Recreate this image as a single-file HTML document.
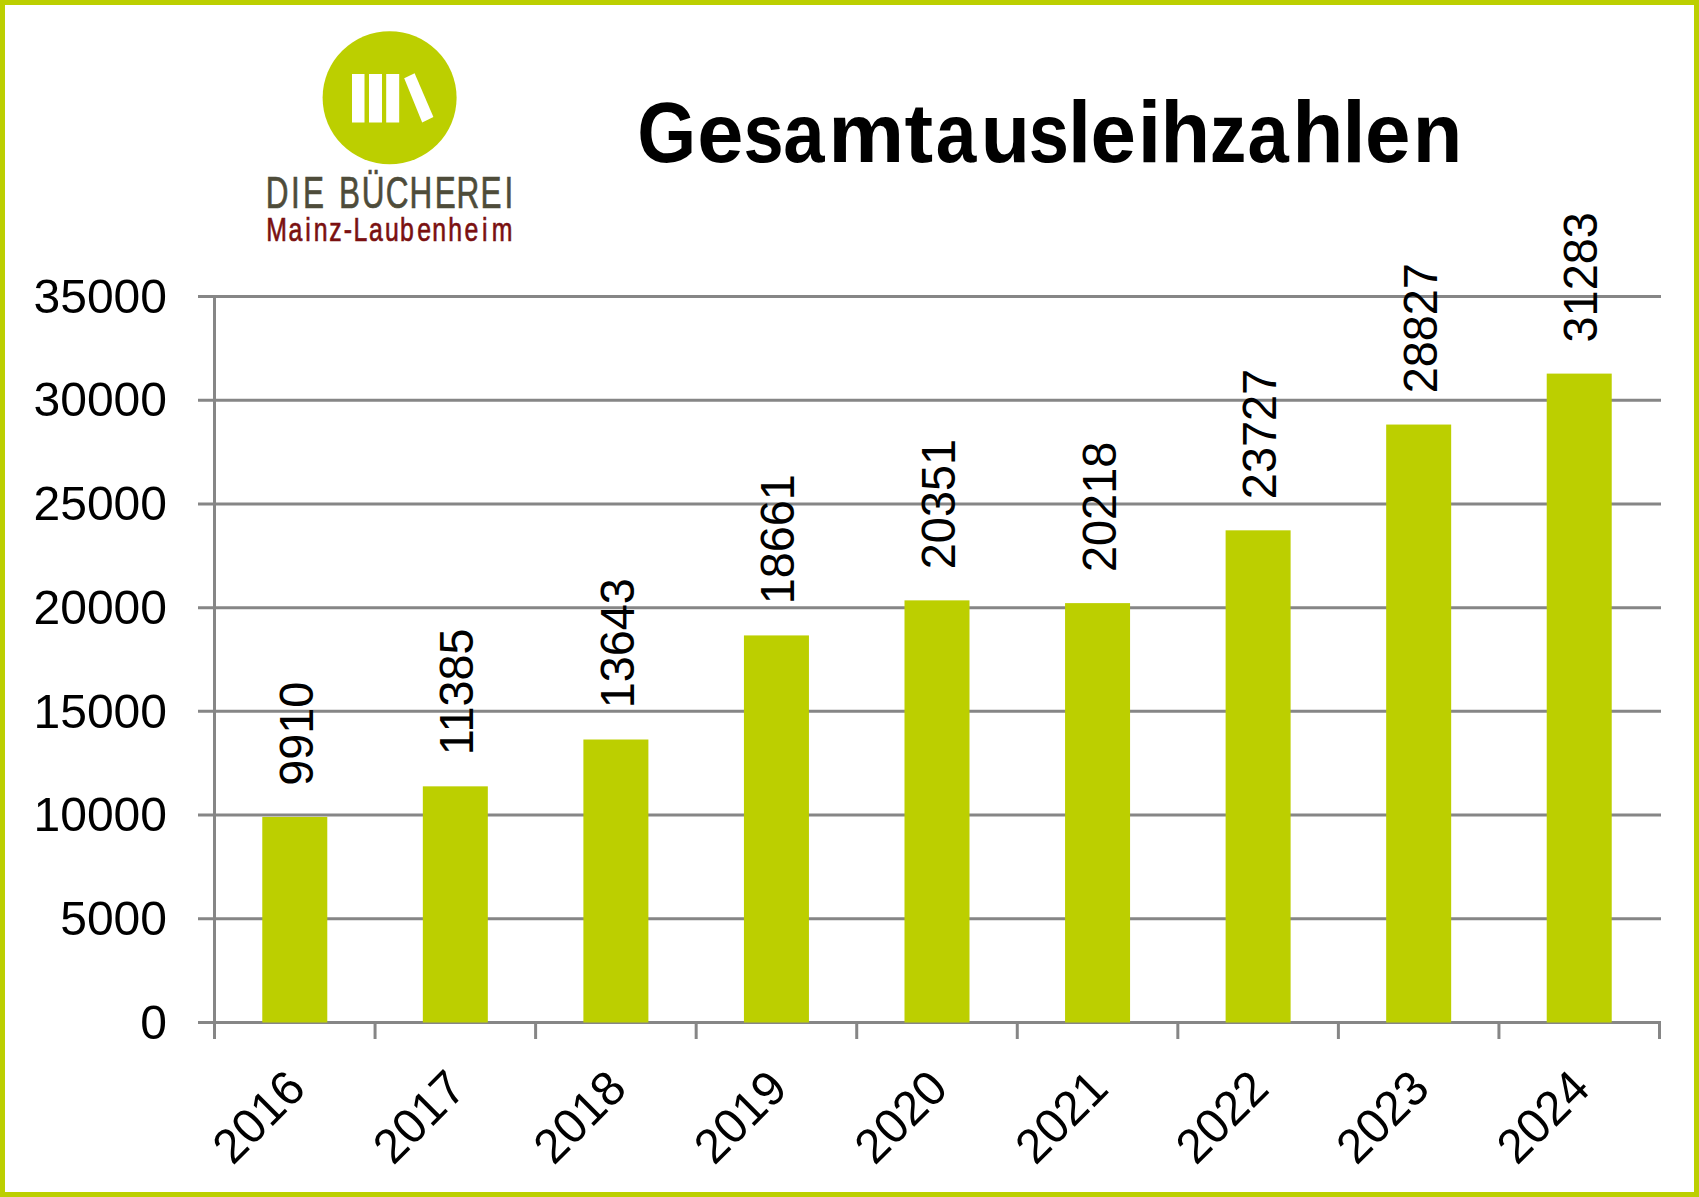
<!DOCTYPE html>
<html><head><meta charset="utf-8"><style>
html,body{margin:0;padding:0;background:#fff;}
svg{display:block;}
.ax{font-family:"Liberation Sans",sans-serif;font-size:48.5px;fill:#000;}
.ttl{font-family:"Liberation Sans",sans-serif;font-size:86px;font-weight:bold;fill:#000;}
.lg{font-family:"Liberation Sans",sans-serif;}
</style></head><body>
<svg width="1699" height="1197" viewBox="0 0 1699 1197">
<rect x="0" y="0" width="1699" height="1197" fill="#BCCF00"/>
<rect x="5" y="5" width="1689" height="1187" fill="#FFFFFF"/>
<ellipse cx="389.6" cy="97.8" rx="67" ry="66.5" fill="#BCCF00"/>
<rect x="352" y="74" width="12.5" height="48.5" fill="#fff"/>
<rect x="369" y="74" width="13" height="48.5" fill="#fff"/>
<rect x="386.2" y="74" width="13" height="48.5" fill="#fff"/>
<polygon points="404.2,78.3 414.6,73.3 433.4,117.1 422.2,122.5" fill="#fff"/>
<g class="lg"><text transform="translate(265.79,208) scale(0.700,1)" fill="#4E4C3A" stroke="#4E4C3A" stroke-width="0.7" style="font-size:45px">D</text><text transform="translate(291.12,208) scale(0.700,1)" fill="#4E4C3A" stroke="#4E4C3A" stroke-width="0.7" style="font-size:45px">I</text><text transform="translate(303.08,208) scale(0.700,1)" fill="#4E4C3A" stroke="#4E4C3A" stroke-width="0.7" style="font-size:45px">E</text><text transform="translate(339.03,208) scale(0.700,1)" fill="#4E4C3A" stroke="#4E4C3A" stroke-width="0.7" style="font-size:45px">B</text><text transform="translate(361.73,208) scale(0.700,1)" fill="#4E4C3A" stroke="#4E4C3A" stroke-width="0.7" style="font-size:45px">Ü</text><text transform="translate(385.83,208) scale(0.700,1)" fill="#4E4C3A" stroke="#4E4C3A" stroke-width="0.7" style="font-size:45px">C</text><text transform="translate(409.42,208) scale(0.700,1)" fill="#4E4C3A" stroke="#4E4C3A" stroke-width="0.7" style="font-size:45px">H</text><text transform="translate(434.68,208) scale(0.700,1)" fill="#4E4C3A" stroke="#4E4C3A" stroke-width="0.7" style="font-size:45px">E</text><text transform="translate(456.46,208) scale(0.700,1)" fill="#4E4C3A" stroke="#4E4C3A" stroke-width="0.7" style="font-size:45px">R</text><text transform="translate(480.58,208) scale(0.700,1)" fill="#4E4C3A" stroke="#4E4C3A" stroke-width="0.7" style="font-size:45px">E</text><text transform="translate(504.42,208) scale(0.700,1)" fill="#4E4C3A" stroke="#4E4C3A" stroke-width="0.7" style="font-size:45px">I</text><text transform="translate(266.36,240.9) scale(0.730,1)" fill="#7A1010" stroke="#7A1010" stroke-width="0.7" style="font-size:34px">M</text><text transform="translate(288.42,240.9) scale(0.730,1)" fill="#7A1010" stroke="#7A1010" stroke-width="0.7" style="font-size:34px">a</text><text transform="translate(305.35,240.9) scale(0.730,1)" fill="#7A1010" stroke="#7A1010" stroke-width="0.7" style="font-size:34px">i</text><text transform="translate(313.83,240.9) scale(0.730,1)" fill="#7A1010" stroke="#7A1010" stroke-width="0.7" style="font-size:34px">n</text><text transform="translate(329.16,240.9) scale(0.730,1)" fill="#7A1010" stroke="#7A1010" stroke-width="0.7" style="font-size:34px">z</text><text transform="translate(343.72,240.9) scale(0.730,1)" fill="#7A1010" stroke="#7A1010" stroke-width="0.7" style="font-size:34px">-</text><text transform="translate(353.39,240.9) scale(0.730,1)" fill="#7A1010" stroke="#7A1010" stroke-width="0.7" style="font-size:34px">L</text><text transform="translate(368.92,240.9) scale(0.730,1)" fill="#7A1010" stroke="#7A1010" stroke-width="0.7" style="font-size:34px">a</text><text transform="translate(384.97,240.9) scale(0.730,1)" fill="#7A1010" stroke="#7A1010" stroke-width="0.7" style="font-size:34px">u</text><text transform="translate(400.02,240.9) scale(0.730,1)" fill="#7A1010" stroke="#7A1010" stroke-width="0.7" style="font-size:34px">b</text><text transform="translate(417.32,240.9) scale(0.730,1)" fill="#7A1010" stroke="#7A1010" stroke-width="0.7" style="font-size:34px">e</text><text transform="translate(432.23,240.9) scale(0.730,1)" fill="#7A1010" stroke="#7A1010" stroke-width="0.7" style="font-size:34px">n</text><text transform="translate(448.24,240.9) scale(0.730,1)" fill="#7A1010" stroke="#7A1010" stroke-width="0.7" style="font-size:34px">h</text><text transform="translate(464.57,240.9) scale(0.730,1)" fill="#7A1010" stroke="#7A1010" stroke-width="0.7" style="font-size:34px">e</text><text transform="translate(481.95,240.9) scale(0.730,1)" fill="#7A1010" stroke="#7A1010" stroke-width="0.7" style="font-size:34px">i</text><text transform="translate(491.76,240.9) scale(0.730,1)" fill="#7A1010" stroke="#7A1010" stroke-width="0.7" style="font-size:34px">m</text></g>
<g class="ttl"><text transform="translate(637.29,161.7) scale(0.881,1.0)">G</text><text transform="translate(697.36,161.7) scale(0.966,0.97)">e</text><text transform="translate(743.47,161.7) scale(0.840,0.97)">s</text><text transform="translate(783.23,161.7) scale(0.863,0.97)">a</text><text transform="translate(828.26,161.7) scale(0.994,0.97)">m</text><text transform="translate(904.43,161.7) scale(1.000,0.967)">t</text><text transform="translate(935.66,161.7) scale(0.849,0.97)">a</text><text transform="translate(980.70,161.7) scale(0.937,0.97)">u</text><text transform="translate(1028.77,161.7) scale(0.840,0.97)">s</text><text transform="translate(1067.70,161.7) scale(0.983,1.016)">l</text><text transform="translate(1090.40,161.7) scale(0.951,0.97)">e</text><text transform="translate(1137.40,161.7) scale(1.000,1.016)">i</text><text transform="translate(1160.43,161.7) scale(0.944,1.016)">h</text><text transform="translate(1209.87,161.7) scale(0.850,0.97)">z</text><text transform="translate(1247.53,161.7) scale(0.863,0.97)">a</text><text transform="translate(1292.34,161.7) scale(0.976,1.016)">h</text><text transform="translate(1342.20,161.7) scale(0.983,1.016)">l</text><text transform="translate(1364.90,161.7) scale(0.951,0.97)">e</text><text transform="translate(1412.75,161.7) scale(0.944,0.97)">n</text></g>
<line x1="198" y1="1022.50" x2="1661.00" y2="1022.50" stroke="#868686" stroke-width="3"/>
<line x1="198" y1="918.79" x2="1661.00" y2="918.79" stroke="#868686" stroke-width="3"/>
<line x1="198" y1="815.07" x2="1661.00" y2="815.07" stroke="#868686" stroke-width="3"/>
<line x1="198" y1="711.36" x2="1661.00" y2="711.36" stroke="#868686" stroke-width="3"/>
<line x1="198" y1="607.64" x2="1661.00" y2="607.64" stroke="#868686" stroke-width="3"/>
<line x1="198" y1="503.93" x2="1661.00" y2="503.93" stroke="#868686" stroke-width="3"/>
<line x1="198" y1="400.21" x2="1661.00" y2="400.21" stroke="#868686" stroke-width="3"/>
<line x1="198" y1="296.50" x2="1661.00" y2="296.50" stroke="#868686" stroke-width="3"/>
<line x1="214.5" y1="295.0" x2="214.5" y2="1039" stroke="#868686" stroke-width="3"/>
<line x1="375.06" y1="1022.5" x2="375.06" y2="1039" stroke="#868686" stroke-width="3"/>
<line x1="535.61" y1="1022.5" x2="535.61" y2="1039" stroke="#868686" stroke-width="3"/>
<line x1="696.17" y1="1022.5" x2="696.17" y2="1039" stroke="#868686" stroke-width="3"/>
<line x1="856.72" y1="1022.5" x2="856.72" y2="1039" stroke="#868686" stroke-width="3"/>
<line x1="1017.28" y1="1022.5" x2="1017.28" y2="1039" stroke="#868686" stroke-width="3"/>
<line x1="1177.83" y1="1022.5" x2="1177.83" y2="1039" stroke="#868686" stroke-width="3"/>
<line x1="1338.39" y1="1022.5" x2="1338.39" y2="1039" stroke="#868686" stroke-width="3"/>
<line x1="1498.94" y1="1022.5" x2="1498.94" y2="1039" stroke="#868686" stroke-width="3"/>
<line x1="1659.50" y1="1022.5" x2="1659.50" y2="1039" stroke="#868686" stroke-width="3"/>
<rect x="262.28" y="816.94" width="65" height="205.56" fill="#BCCF00"/>
<rect x="422.83" y="786.34" width="65" height="236.16" fill="#BCCF00"/>
<rect x="583.39" y="739.51" width="65" height="282.99" fill="#BCCF00"/>
<rect x="743.94" y="635.42" width="65" height="387.08" fill="#BCCF00"/>
<rect x="904.50" y="600.36" width="65" height="422.14" fill="#BCCF00"/>
<rect x="1065.06" y="603.12" width="65" height="419.38" fill="#BCCF00"/>
<rect x="1225.61" y="530.33" width="65" height="492.17" fill="#BCCF00"/>
<rect x="1386.17" y="424.55" width="65" height="597.95" fill="#BCCF00"/>
<rect x="1546.72" y="373.60" width="65" height="648.90" fill="#BCCF00"/>
<text transform="translate(167,1038.70) scale(0.99,1)" text-anchor="end" class="ax">0</text>
<text transform="translate(167,934.99) scale(0.99,1)" text-anchor="end" class="ax">5000</text>
<text transform="translate(167,831.27) scale(0.99,1)" text-anchor="end" class="ax">10000</text>
<text transform="translate(167,727.56) scale(0.99,1)" text-anchor="end" class="ax">15000</text>
<text transform="translate(167,623.84) scale(0.99,1)" text-anchor="end" class="ax">20000</text>
<text transform="translate(167,520.13) scale(0.99,1)" text-anchor="end" class="ax">25000</text>
<text transform="translate(167,416.41) scale(0.99,1)" text-anchor="end" class="ax">30000</text>
<text transform="translate(167,312.70) scale(0.99,1)" text-anchor="end" class="ax">35000</text>
<text transform="translate(312.78,785.74) rotate(-90) scale(0.965,1)" class="ax">9910</text>
<text transform="translate(473.33,755.14) rotate(-90) scale(0.965,1)" class="ax">11385</text>
<text transform="translate(633.89,708.31) rotate(-90) scale(0.965,1)" class="ax">13643</text>
<text transform="translate(794.44,604.22) rotate(-90) scale(0.965,1)" class="ax">18661</text>
<text transform="translate(955.00,569.16) rotate(-90) scale(0.965,1)" class="ax">20351</text>
<text transform="translate(1115.56,571.92) rotate(-90) scale(0.965,1)" class="ax">20218</text>
<text transform="translate(1276.11,499.13) rotate(-90) scale(0.965,1)" class="ax">23727</text>
<text transform="translate(1436.67,393.35) rotate(-90) scale(0.965,1)" class="ax">28827</text>
<text transform="translate(1597.22,342.40) rotate(-90) scale(0.965,1)" class="ax">31283</text>
<text transform="translate(307.78,1091.00) rotate(-45) scale(0.985,1)" text-anchor="end" class="ax">2016</text>
<text transform="translate(468.33,1091.00) rotate(-45) scale(0.985,1)" text-anchor="end" class="ax">2017</text>
<text transform="translate(628.89,1091.00) rotate(-45) scale(0.985,1)" text-anchor="end" class="ax">2018</text>
<text transform="translate(789.44,1091.00) rotate(-45) scale(0.985,1)" text-anchor="end" class="ax">2019</text>
<text transform="translate(950.00,1091.00) rotate(-45) scale(0.985,1)" text-anchor="end" class="ax">2020</text>
<text transform="translate(1110.56,1091.00) rotate(-45) scale(0.985,1)" text-anchor="end" class="ax">2021</text>
<text transform="translate(1271.11,1091.00) rotate(-45) scale(0.985,1)" text-anchor="end" class="ax">2022</text>
<text transform="translate(1431.67,1091.00) rotate(-45) scale(0.985,1)" text-anchor="end" class="ax">2023</text>
<text transform="translate(1592.22,1091.00) rotate(-45) scale(0.985,1)" text-anchor="end" class="ax">2024</text>
</svg>
</body></html>
